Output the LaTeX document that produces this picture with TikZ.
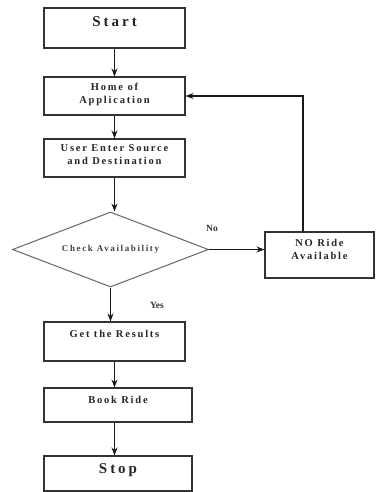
\documentclass[tikz,border=0pt]{standalone}
\usepackage{fontspec}
\setmainfont{Liberation Serif}
\newfontfamily\spacedfont[LetterSpace=17]{Liberation Serif}
\newfontfamily\bigspacedfont[LetterSpace=20]{Liberation Serif}
\newfontfamily\diafont[LetterSpace=18]{Liberation Serif}
\usetikzlibrary{shapes.geometric,arrows.meta}
\begin{document}
\begin{tikzpicture}[x=1pt,y=-1pt,
  box/.style={draw=black!80, line width=1.1pt, inner sep=0pt, rectangle},
  txt/.style={font=\spacedfont\bfseries\fontsize{10.5}{13}\selectfont, align=center, inner sep=0pt, text=black!85},
  bigtxt/.style={font=\bigspacedfont\bfseries\fontsize{15}{17}\selectfont, inner sep=0pt, text=black!85},
  arr/.style={-{Stealth[length=8pt,width=6pt]}, line width=1.2pt, draw=black!90},
  lbl/.style={font=\bfseries\fontsize{9.5}{11}\selectfont, text=black!80, inner sep=0pt}]
\useasboundingbox (0,0) rectangle (375,492);
\fill[white] (0,0) rectangle (375,492);
% boxes
\node[box, minimum width=141, minimum height=40, label={[bigtxt, yshift=6pt]center:Start}] (start) at (114.5,28) {};
\node[box, minimum width=141, minimum height=38, label={[txt, yshift=2pt]center:Home of\\Application}] (home) at (114.5,96) {};
\node[box, minimum width=141, minimum height=38, label={[txt, yshift=3pt]center:User Enter Source\\and Destination}] (user) at (114.5,158) {};
\node[draw=black!60, line width=1pt, diamond, aspect=2.6, inner sep=0pt, minimum width=196, minimum height=75,
      font=\diafont\bfseries\fontsize{9}{10}\selectfont, text=black!75] (check) at (110.5,249.5) {Check Availability};
\node[box, minimum width=109, minimum height=46, label={[txt, yshift=6pt]center:NO Ride\\Available}] (noride) at (319.5,255) {};
\node[box, minimum width=141, minimum height=39, label={[txt, yshift=8pt]center:Get the Results}] (get) at (114.5,341.5) {};
\node[box, minimum width=148, minimum height=34, label={[txt, yshift=5pt]center:Book Ride}] (book) at (118,405) {};
\node[box, minimum width=148, minimum height=35, label={[bigtxt, yshift=3pt]center:Stop}] (stop) at (118,473.5) {};
% labels
\node[lbl] (no) at (212,228) {No};
\node[lbl] (yes) at (157,305) {Yes};
% connectors
\coordinate (cx) at (114.5,0);
\coordinate (fb) at (303,0);
\draw[arr] (start.south) -- (home.north);
\draw[arr] (home.south) -- (user.north);
\draw[arr] (user.south) -- (user.south |- check.north);
\draw[arr] (check.east) -- (check.east -| noride.west);
\draw[arr] (check.south) -- (check.south |- get.north);
\draw[arr] (noride.north -| fb) |- (home.east);
\draw[arr] (get.south) -- (get.south |- book.north);
\draw[arr] (book.south -| cx) -- (stop.north -| cx);
\end{tikzpicture}
\end{document}
